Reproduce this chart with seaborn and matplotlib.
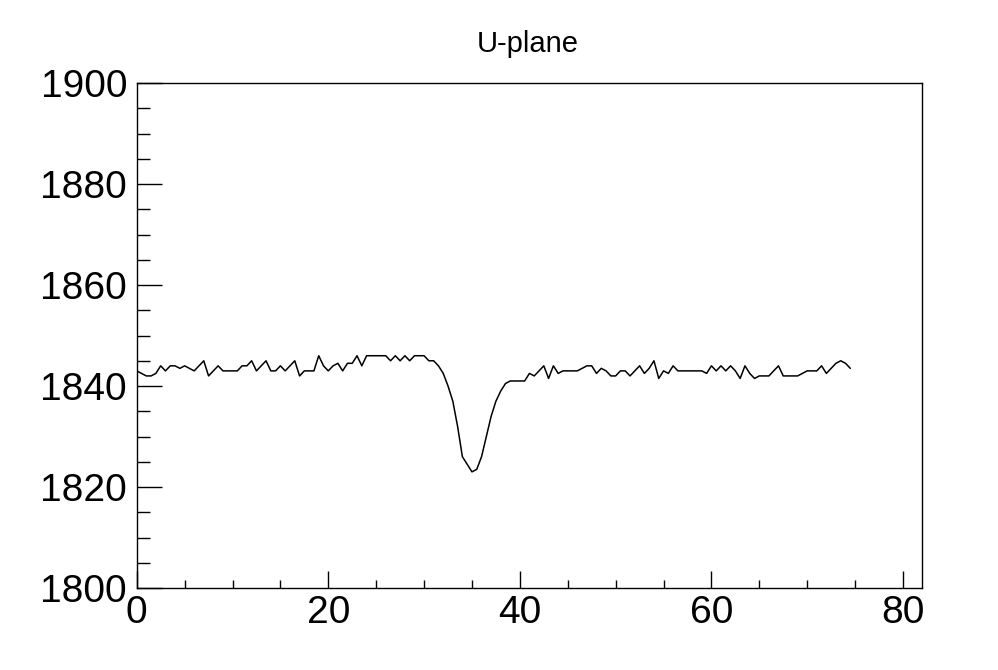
import numpy as np
import pandas as pd
import matplotlib
matplotlib.use("Agg")
import matplotlib.pyplot as plt
from matplotlib.ticker import MultipleLocator
import seaborn as sns

# sample times (0.5 step) and ADC values
times = np.arange(0, 75, 0.5)
adc = [
    1843, 1842.5, 1842, 1842, 1842.5, 1844, 1843, 1844, 1844, 1843.5,
    1844, 1843.5, 1843, 1844, 1845, 1842, 1843, 1844, 1843, 1843,
    1843, 1843, 1844, 1844, 1845, 1843, 1844, 1845, 1843, 1843,
    1844, 1843, 1844, 1845, 1842, 1843, 1843, 1843, 1846, 1844,
    1843,
    1844, 1844.5, 1843, 1844.5, 1844.5, 1846, 1844, 1846, 1846, 1846,
    1846, 1846, 1845, 1846, 1845, 1846, 1845, 1846, 1846, 1846,
    1845, 1845, 1844, 1842.5, 1840, 1837, 1832, 1826, 1824.5, 1823,
    1823.5, 1826, 1830, 1834, 1837, 1839, 1840.5, 1841, 1841, 1841,
    1841, 1842.5, 1842, 1843, 1844, 1841.5, 1844, 1842.5, 1843, 1843,
    1843, 1843, 1843.5, 1844, 1844, 1842.5, 1843.5, 1843, 1842, 1842,
    1843, 1843, 1842, 1843, 1844, 1842.5, 1843.5, 1845, 1841.5, 1843,
    1842.5, 1844, 1843, 1843, 1843, 1843, 1843, 1843, 1842.5, 1844,
    1843, 1844, 1843, 1844, 1843, 1841.5, 1844, 1842.5, 1841.5, 1842,
    1842, 1842, 1843, 1844, 1842, 1842, 1842, 1842, 1842.5, 1843,
    1843, 1843, 1844, 1842.5, 1843.5, 1844.5, 1845, 1844.5, 1843.5,
]
df = pd.DataFrame({"time": times, "adc": adc})

sns.set_style("white")
plt.rcParams["font.family"] = ["Liberation Sans", "DejaVu Sans"]
plt.rcParams["text.color"] = "black"
plt.rcParams["xtick.color"] = "black"
plt.rcParams["ytick.color"] = "black"

fig = plt.figure(figsize=(9.98, 6.70), dpi=100)
ax = fig.add_axes([0.137, 0.1224, 0.787, 0.7536])

sns.lineplot(data=df, x="time", y="adc", ax=ax, color="black", linewidth=1.1)

ax.set_xlim(0, 82)
ax.set_ylim(1800, 1900)
ax.xaxis.set_major_locator(MultipleLocator(20))
ax.xaxis.set_minor_locator(MultipleLocator(5))
ax.yaxis.set_major_locator(MultipleLocator(20))
ax.yaxis.set_minor_locator(MultipleLocator(5))
ax.tick_params(bottom=True, left=True, top=False, right=False, which="both")
ax.tick_params(axis="x", which="major", direction="in", length=12, width=1,
               labelsize=28, pad=5)
ax.tick_params(axis="x", which="minor", direction="in", length=6, width=1)
ax.tick_params(axis="y", which="major", direction="in", length=18, width=1,
               labelsize=28, pad=7)
ax.tick_params(axis="y", which="minor", direction="in", length=9, width=1)
ax.set_xlabel("")
ax.set_ylabel("")
for s in ax.spines.values():
    s.set_color("black")
    s.set_linewidth(1.0)

fig.text(0.529, 1 - 52 / 670, "U-plane", ha="center", va="baseline",
         fontsize=21, color="black")

fig.savefig("out.png", dpi=100)
